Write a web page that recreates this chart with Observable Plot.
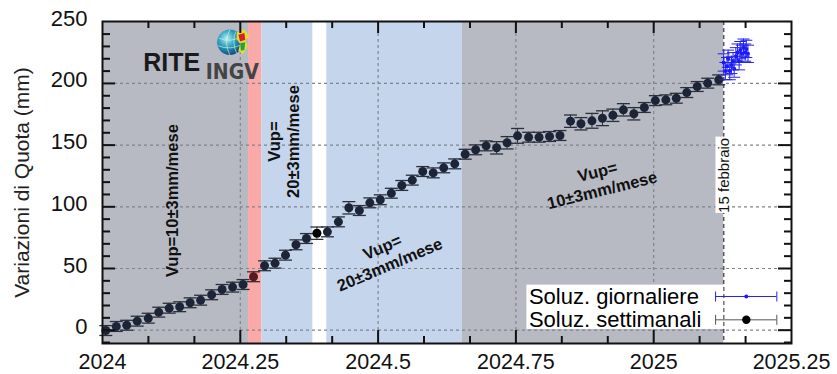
<!DOCTYPE html>
<html>
<head>
<meta charset="utf-8">
<script src="https://cdn.jsdelivr.net/npm/d3@7"></script>
<script src="https://cdn.jsdelivr.net/npm/@observablehq/plot@0.6"></script>
<style>
  html, body { margin: 0; padding: 0; background: #fff; }
  #chart svg { display: block; }
</style>
</head>
<body>
<div id="chart"></div>
<script>
// ---------------- data ----------------
const weeklyT = [2024.006, 2024.025, 2024.044, 2024.063, 2024.083, 2024.102, 2024.121, 2024.140, 2024.159, 2024.178,
  2024.198, 2024.217, 2024.236, 2024.255, 2024.274, 2024.294, 2024.313, 2024.332, 2024.351, 2024.370,
  2024.389, 2024.408, 2024.428, 2024.447, 2024.466, 2024.485, 2024.504, 2024.524, 2024.543, 2024.562,
  2024.581, 2024.600, 2024.619, 2024.639, 2024.658, 2024.677, 2024.696, 2024.715, 2024.734, 2024.753,
  2024.773, 2024.792, 2024.811, 2024.830, 2024.849, 2024.868, 2024.888, 2024.907, 2024.926, 2024.945,
  2024.964, 2024.983, 2025.003, 2025.022, 2025.041, 2025.060, 2025.079, 2025.098, 2025.118];
const weeklyV = [-0.3, 3, 4, 7.3, 9.7, 14.6, 17.8, 19, 22.2, 24.3,
  28.7, 33, 34.9, 37, 43.3, 52.2, 54.3, 60.8, 69.2, 74.3,
  78.6, 79.7, 87.8, 99.2, 97, 103.2, 105.7, 111, 117.3, 121.6,
  128.6, 127.5, 131.6, 134.8, 142.6, 146.2, 149.4, 147.8, 151.9, 157.5,
  156.4, 156.4, 157, 157.8, 169.4, 167.3, 169.7, 171.8, 174.2, 178.6,
  175.4, 180.5, 186.1, 186.7, 188, 192.6, 197.5, 200.2, 202.9];
const weeklyE = [4, 4, 4, 4, 4, 4, 4, 4, 4, 4,
  4, 4, 4, 4, 4, 4, 4, 4, 4, 4,
  5, 4, 4, 5, 4, 4, 4, 4, 4, 4,
  4, 4, 4, 4, 4, 4, 4, 5, 5, 6,
  4, 4, 4, 4, 5, 5, 6, 6, 5, 5,
  5, 4, 4, 4, 4, 4, 4, 4, 4];

const dailyT = [2025.127, 2025.130, 2025.133, 2025.135, 2025.138, 2025.141, 2025.144, 2025.146, 2025.149,
  2025.152, 2025.155, 2025.157, 2025.160, 2025.163, 2025.166, 2025.168, 2025.171];
const dailyV = [217, 210, 214, 220, 210, 215, 218, 212, 222, 225, 218, 227, 224, 229, 225, 228, 224];
const dailyE = [7, 7, 7, 7, 7, 7, 7, 7, 7, 7, 7, 7, 7, 7, 7, 7, 7];

const bandStart = [2024, 2024.265, 2024.289, 2024.382, 2024.407, 2024.653];
const bandEnd   = [2024.265, 2024.289, 2024.382, 2024.407, 2024.653, 2025.127];
const bandKind  = ["grigio", "rosso", "azzurro", "bianco", "azzurro", "grigio"];

const xTicks = [2024, 2024.25, 2024.5, 2024.75, 2025, 2025.25];
const xTickLabels = ["2024", "2024.25", "2024.5", "2024.75", "2025", "2025.25"];
const xMonthsMinor = [2024.0833, 2024.1667, 2024.3333, 2024.4167, 2024.5833, 2024.6667,
  2024.8333, 2024.9167, 2025.0833, 2025.1667];
const xMajorInner = [2024.25, 2024.5, 2024.75, 2025];
const yTicks = [0, 50, 100, 150, 200, 250];
const yTickLabels = ["0", "50", "100", "150", "200", "250"];
const yMinor = [-10, 10, 20, 30, 40, 60, 70, 80, 90, 110, 120, 130, 140, 160, 170, 180, 190, 210, 220, 230, 240];
const yMajorInner = [0, 50, 100, 150, 200];

const station = "RITE";
const dateMark = 2025.127;
const dateLabel = "15 febbraio";
const legendLabels = ["Soluz. giornaliere", "Soluz. settimanali"];
const yLabel = "Variazioni di Quota (mm)";

// ---------------- build tables ----------------
const weekly = weeklyT.map((t, i) => ({t, v: weeklyV[i], e: weeklyE[i], i}));
const daily = dailyT.map((t, i) => ({t, v: dailyV[i], e: dailyE[i]}));
const bandColors = {grigio: "#b7bac3", rosso: "#f9a9a8", azzurro: "#c5d5ec", bianco: "#ffffff"};
const bands = bandStart.map((s, i) => ({x1: s, x2: bandEnd[i], fill: bandColors[bandKind[i]]}));
const xLab = xTicks.map((v, i) => ({v, label: xTickLabels[i]}));
const yLab = yTicks.map((v, i) => ({v, label: yTickLabels[i]}));

const W = 837, H = 374, ML = 102, MR = 46, MT = 21, MB = 31;
const FW = W - ML - MR, FH = H - MT - MB;

const hcap = {draw(ctx, size) { const r = Math.sqrt(size / Math.PI); ctx.moveTo(-r, 0); ctx.lineTo(r, 0); }};
const vcap = {draw(ctx, size) { const r = Math.sqrt(size / Math.PI); ctx.moveTo(0, -r); ctx.lineTo(0, r); }};

const globeSvg = `<svg xmlns='http://www.w3.org/2000/svg' viewBox='0 0 40 40'>
<defs><radialGradient id='g' cx='0.38' cy='0.35' r='0.72'><stop offset='0' stop-color='#b8eef0'/><stop offset='0.45' stop-color='#2ea3c0'/><stop offset='1' stop-color='#0c3c78'/></radialGradient></defs>
<circle cx='16' cy='21' r='15' fill='url(#g)'/>
<path d='M3 16 Q16 22 30 14 M2 25 Q16 31 31 23 M16 6 Q8 21 16 36 M23 8 Q18 21 24 34' stroke='#d9f3dc' stroke-width='1' fill='none' opacity='0.75'/>
<path d='M24 9 L33 6 L39 14 L34 18 L37 26 L31 35 L26 31 L28 23 L24 17 Z' fill='#eadb2a'/>
<path d='M26 12 L33 10 L34 18 L28 20 Z' fill='#d42222'/>
<path d='M28 22 L34 21 L33 30 L29 31 Z' fill='#21a045'/>
</svg>`;
const globeSrc = "data:image/svg+xml;charset=utf-8," + encodeURIComponent(globeSvg);

const weeklyFill = (d) => d.i === 14 ? "#5a1a1f" : d.i === 20 ? "#000000" : "#1c2538";

const chart = Plot.plot({
  width: W, height: H,
  marginLeft: ML, marginRight: MR, marginTop: MT, marginBottom: MB,
  style: {fontFamily: "'Liberation Sans', Arial, sans-serif", background: "#fff", overflow: "visible"},
  x: {domain: [2024, 2025.25], axis: null},
  y: {domain: [-10.8, 250.2], axis: null},
  color: {type: "identity"},
  marks: [
    // background bands
    Plot.rectX(bands, {x1: "x1", x2: "x2", fill: "fill"}),
    // grid
    Plot.ruleX(xMajorInner, {x: d => d, stroke: "#7f838d", strokeWidth: 1.2, strokeDasharray: "3,3"}),
    Plot.ruleY(yMajorInner, {y: d => d, stroke: "#7f838d", strokeWidth: 1.2, strokeDasharray: "3,3"}),
    // 15 febbraio line + label
    Plot.ruleX([dateMark], {x: d => d, stroke: "#555", strokeWidth: 1.5, strokeDasharray: "4,3"}),
    Plot.rect([0], {x1: 2025.113, x2: 2025.142, y1: 94.6, y2: 156.5, fill: "#fff"}),
    Plot.text([dateLabel], {x: dateMark, y: 125.5, text: d => d, rotate: -90, fontSize: 15, fill: "#111"}),
    // annotations
    Plot.text([station], {x: 2024.074, y: 216.5, text: d => d, textAnchor: "start", fontSize: 25, fontWeight: "bold", fill: "#1a1a1a"}),
    Plot.image([0], {x: 2024.2373, y: 234, src: globeSrc, width: 34, height: 34}),
    Plot.text(["INGV"], {x: 2024.2355, y: 209, text: d => d, fontSize: 21, fontWeight: "bold", fill: "#444",
      fontFamily: "'DejaVu Sans Condensed', 'Liberation Sans Narrow', sans-serif"}),
    Plot.text(["Vup=10±3mm/mese"], {x: 2024.127, y: 105, text: d => d, rotate: -90, fontSize: 16.5, fontWeight: "bold", fill: "#111"}),
    Plot.text(["Vup=\n20±3mm/mese"], {x: 2024.328, y: 152.9, text: d => d, rotate: -90, fontSize: 16.5, fontWeight: "bold", fill: "#111", lineHeight: 1.15}),
    Plot.text(["Vup=\n20±3mm/mese"], {x: 2024.514, y: 60.5, text: d => d, rotate: -23, fontSize: 16.5, fontWeight: "bold", fill: "#111", lineHeight: 1.15}),
    Plot.text(["Vup=\n10±3mm/mese"], {x: 2024.902, y: 121.3, text: d => d, rotate: -14, fontSize: 16.5, fontWeight: "bold", fill: "#111", lineHeight: 1.15}),
    // weekly error bars + dots
    Plot.ruleX(weekly, {x: "t", y1: d => d.v - d.e, y2: d => d.v + d.e, stroke: "#2a2f3a", strokeWidth: 1}),
    Plot.dot(weekly, {x: "t", y: d => d.v + d.e, symbol: hcap, r: 6.5, fill: "none", stroke: "#2a2f3a", strokeWidth: 1.3}),
    Plot.dot(weekly, {x: "t", y: d => d.v - d.e, symbol: hcap, r: 6.5, fill: "none", stroke: "#2a2f3a", strokeWidth: 1.3}),
    Plot.dot(weekly, {x: "t", y: "v", r: 4.5, fill: weeklyFill, stroke: "none"}),
    // daily error bars + dots
    Plot.ruleX(daily, {x: "t", y1: d => d.v - d.e, y2: d => d.v + d.e, stroke: "#2222ee", strokeWidth: 1}),
    Plot.dot(daily, {x: "t", y: d => d.v + d.e, symbol: hcap, r: 6, fill: "none", stroke: "#2222ee", strokeWidth: 1}),
    Plot.dot(daily, {x: "t", y: d => d.v - d.e, symbol: hcap, r: 6, fill: "none", stroke: "#2222ee", strokeWidth: 1}),
    Plot.dot(daily, {x: "t", y: "v", r: 2, fill: "#1a1aff", stroke: "none"}),
    // legend
    Plot.rect([0], {x1: 2024.7699, x2: 2025.127, y1: 0.6, y2: 36.5, fill: "#fff"}),
    Plot.text([legendLabels[0]], {x: 2024.7736, y: 27.3, text: d => d, textAnchor: "start", fontSize: 22, fill: "#000"}),
    Plot.text([legendLabels[1]], {x: 2024.7736, y: 8.4, text: d => d, textAnchor: "start", fontSize: 22, fill: "#000"}),
    Plot.ruleY([27.3], {y: d => d, x1: 2025.1123, x2: 2025.2234, stroke: "#2222ee", strokeWidth: 1}),
    Plot.dot([2025.1123, 2025.2234], {x: d => d, y: 27.3, symbol: vcap, r: 5, fill: "none", stroke: "#2222ee", strokeWidth: 1}),
    Plot.dot([2025.168], {x: d => d, y: 27.3, r: 2, fill: "#1a1aff"}),
    Plot.ruleY([8.4], {y: d => d, x1: 2025.1123, x2: 2025.2234, stroke: "#555", strokeWidth: 1}),
    Plot.dot([2025.1123, 2025.2234], {x: d => d, y: 8.4, symbol: vcap, r: 5, fill: "none", stroke: "#555", strokeWidth: 1}),
    Plot.dot([2025.168], {x: d => d, y: 8.4, r: 4.2, fill: "#000"}),
    // frame ticks (inward)
    Plot.tickX(xMonthsMinor, {x: d => d, insetBottom: FH - 7, stroke: "#111", strokeWidth: 2}),
    Plot.tickX(xMonthsMinor, {x: d => d, insetTop: FH - 7, stroke: "#111", strokeWidth: 2}),
    Plot.tickX(xMajorInner, {x: d => d, insetBottom: FH - 12, stroke: "#111", strokeWidth: 2}),
    Plot.tickX(xMajorInner, {x: d => d, insetTop: FH - 13, stroke: "#111", strokeWidth: 2}),
    Plot.tickY(yMinor, {y: d => d, insetRight: FW - 8, stroke: "#111", strokeWidth: 2}),
    Plot.tickY(yMinor, {y: d => d, insetLeft: FW - 7, stroke: "#111", strokeWidth: 2}),
    Plot.tickY(yMajorInner, {y: d => d, insetRight: FW - 13, stroke: "#111", strokeWidth: 2}),
    Plot.tickY(yMajorInner, {y: d => d, insetLeft: FW - 13, stroke: "#111", strokeWidth: 2}),
    Plot.frame({stroke: "#111", strokeWidth: 2}),
    // tick labels
    Plot.text(xLab, {x: "v", text: "label", frameAnchor: "bottom", dy: 19, lineAnchor: "middle", fontSize: 21.5, fill: "#111"}),
    Plot.text(yLab, {y: "v", text: "label", frameAnchor: "left", dx: -15, dy: -3, textAnchor: "end", lineAnchor: "middle", fontSize: 22, fill: "#111"}),
    Plot.text([yLabel], {text: d => d, frameAnchor: "left", dx: -80, rotate: -90, textAnchor: "middle", lineAnchor: "middle", fontSize: 21, fill: "#222"})
  ]
});
document.getElementById("chart").appendChild(chart);
</script>
</body>
</html>
